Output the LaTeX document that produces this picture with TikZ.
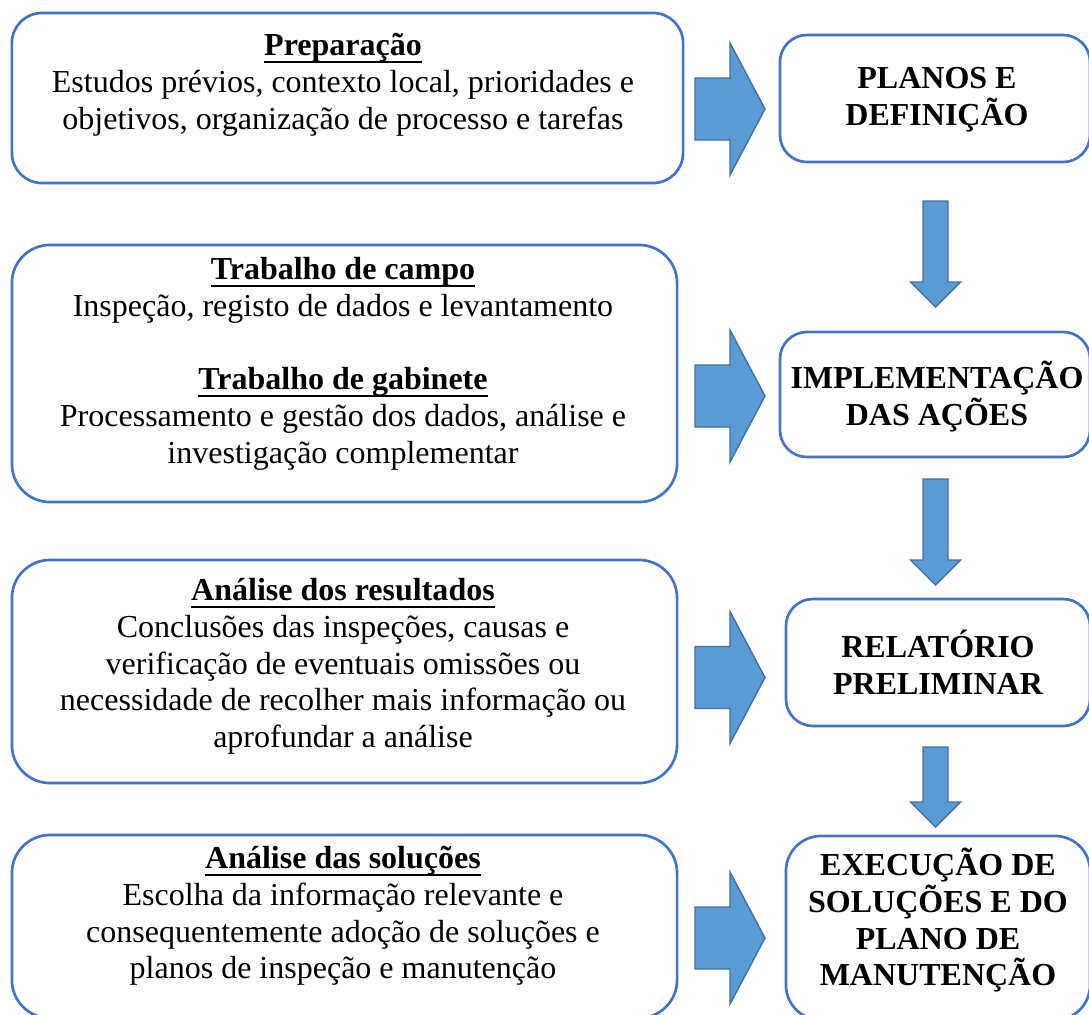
\documentclass[tikz,border=0pt]{standalone}
\usepackage{fontspec}
\setmainfont{Liberation Serif}
\usepackage{tikz}
\usetikzlibrary{positioning}

\definecolor{boxline}{HTML}{4472C4}
\definecolor{arrowfill}{HTML}{5B9BD5}
\definecolor{arrowline}{HTML}{41719C}
\newcommand{\boxstrut}{\rule{0pt}{23pt}}
\newcommand{\boxtitle}[1]{\setbox0=\hbox{\textbf{#1}}\rlap{\rule[-5.2pt]{\wd0}{1.3pt}}\box0}

\begin{document}
\begin{tikzpicture}[x=0.025cm, y=-0.025cm]
        \tikzset{
            phase/.style={
                    draw=boxline, line width=1.9pt, rounded corners=9.5mm, inner sep=0pt
                },
            stage/.style={
                    draw=boxline, line width=1.9pt, rounded corners=6.75mm, inner sep=0pt
                },
            phase text/.style={
                    font=\fontsize{22.76pt}{26.2pt}\selectfont, align=center, inner sep=0pt, anchor=north
                },
            stage text/.style={
                    phase text, font=\fontsize{22.76pt}{26.2pt}\selectfont\bfseries
                },
            block/.style={
                    fill=arrowfill, draw=arrowline, line width=1pt, line join=miter
                },
            right arrow/.pic={
                    \draw[block] (-35,-31) -- (0,-31) -- (0,-66) -- (35,0) -- (0,66) -- (0,31) -- (-35,31) -- cycle;
                },
            down arrow/.pic={
                    \draw[block] (-12.5,0) -- (12.5,0) -- (12.5,#1-25) -- (25,#1-25) -- (0,#1) -- (-25,#1-25) -- (-12.5,#1-25) -- cycle;
                }
        }

        \useasboundingbox (0,0) rectangle (1089,1014);
        \clip (0,0) rectangle (1089,1014);

        % left column
        \node[phase, rounded corners=7.5mm, minimum width=167.75mm, minimum height=42.5mm] (prep) at (347.5,98) {};
        \node[phase, minimum width=166.25mm, minimum height=64.25mm] (field) at (344.5,373.5) {};
        \node[phase, minimum width=166.25mm, minimum height=55.75mm] (results) at (344.5,671.5) {};
        \node[phase, minimum width=166.25mm, minimum height=45.75mm] (solutions) at (344.5,926.5) {};

        \node[phase text] (prep-t) at (343,22.7) {\boxstrut\boxtitle{Preparação}\\
            Estudos prévios, contexto local, prioridades e\\
            objetivos, organização de processo e tarefas};
        \node[phase text] (field-t) at (343,246.7) {\boxstrut\boxtitle{Trabalho de campo}\\
            Inspeção, registo de dados e levantamento\\[26.2pt]
            \boxtitle{Trabalho de gabinete}\\
            Processamento e gestão dos dados, análise e\\
            investigação complementar};
        \node[phase text] (results-t) at (343,567.7) {\boxstrut\boxtitle{Análise dos resultados}\\
            Conclusões das inspeções, causas e\\
            verificação de eventuais omissões ou\\
            necessidade de recolher mais informação ou\\
            aprofundar a análise};
        \node[phase text] (solutions-t) at (343,835.7) {\boxstrut\boxtitle{Análise das soluções}\\
            Escolha da informação relevante e\\
            consequentemente adoção de soluções e\\
            planos de inspeção e manutenção};

        % right column
        \node[stage, minimum width=77.5mm, minimum height=31.75mm] (plan) at (935,98.5) {};
        \node[stage, minimum width=77.5mm, minimum height=31.25mm] (impl) at (935,394.5) {};
        \node[stage, minimum width=76mm, minimum height=31.75mm] (report) at (938,662.5) {};
        \node[stage, rounded corners=8.75mm, minimum width=76mm, minimum height=46mm] (exec) at (938,928) {};

        \node[stage text] (plan-t) at (937,55.7) {\boxstrut PLANOS E\\ DEFINIÇÃO};
        \node[stage text] (impl-t) at (937,355.7) {\boxstrut IMPLEMENTAÇÃO\\ DAS AÇÕES};
        \node[stage text] (report-t) at (938,624.7) {\boxstrut RELATÓRIO\\ PRELIMINAR};
        \node[stage text] (exec-t) at (938,842.7) {\boxstrut EXECUÇÃO DE\\ SOLUÇÕES E DO\\ PLANO DE\\ MANUTENÇÃO};

        % block arrows
        \pic at (730,109) {right arrow};
        \pic at (730,396) {right arrow};
        \pic at (730,677.5) {right arrow};
        \pic at (730,938) {right arrow};

        \pic at (935.5,201) {down arrow=106};
        \pic at (935.5,479) {down arrow=106};
        \pic at (935.5,747) {down arrow=80};
    \end{tikzpicture}
\end{document}
